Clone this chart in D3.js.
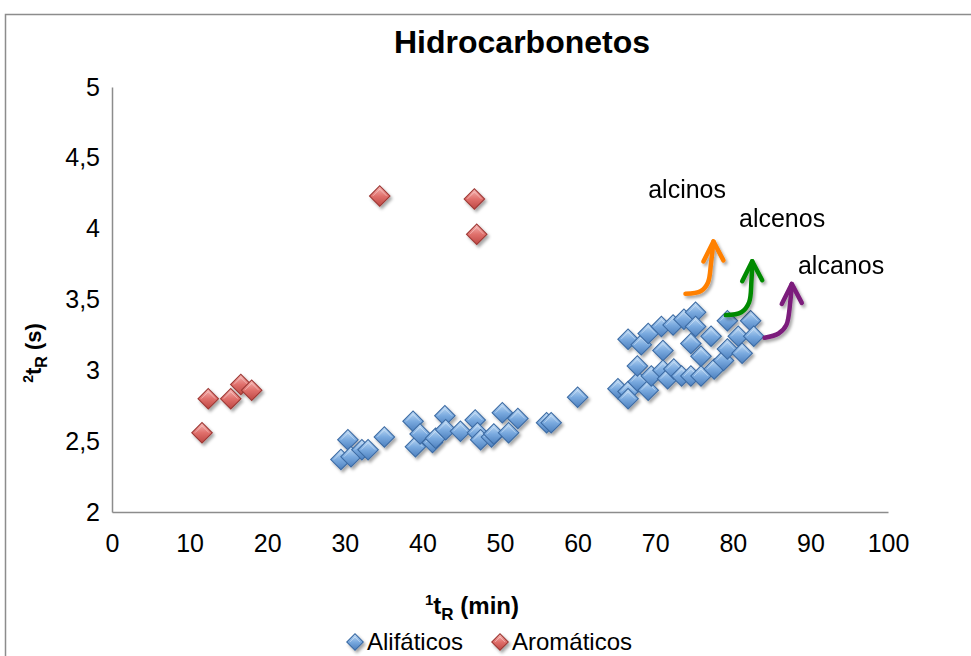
<!DOCTYPE html>
<html>
<head>
<meta charset="utf-8">
<script src="https://cdn.jsdelivr.net/npm/d3@7"></script>
<style>
body { margin: 0; padding: 0; background: #fff; }
svg { display: block; font-family: "Liberation Sans", Arial, sans-serif; }
</style>
</head>
<body>
<div id="main"></div>
<script>
// tick values
const xTicks = [0, 10, 20, 30, 40, 50, 60, 70, 80, 90, 100];
const yTicks = [2, 2.5, 3, 3.5, 4, 4.5, 5];

// series: [1tR (min), 2tR (s)]
const alifaticos = [
    [29.5, 2.37], [30.4, 2.51], [30.8, 2.39], [32.2, 2.44], [33.0, 2.44], [35.1, 2.53],
    [38.8, 2.64], [39.1, 2.46], [39.7, 2.55], [41.3, 2.49], [41.7, 2.52], [42.9, 2.68],
    [43.0, 2.58], [44.9, 2.57], [46.8, 2.65], [47.1, 2.56], [47.5, 2.51], [48.9, 2.53],
    [49.2, 2.55], [50.3, 2.70], [51.1, 2.56], [52.3, 2.66], [56.0, 2.63], [56.6, 2.63],
    [60.0, 2.81],
    [65.2, 2.87], [66.5, 2.85], [66.5, 2.80], [66.5, 3.22], [67.8, 2.92], [67.7, 3.03],
    [68.2, 3.18], [69.1, 2.86], [69.1, 3.26], [69.5, 2.96], [70.8, 3.31], [71.0, 3.14],
    [71.0, 3.00], [71.6, 2.94], [72.3, 3.32], [72.4, 3.01], [73.4, 2.96], [73.7, 3.36],
    [74.6, 3.19], [74.6, 2.96], [75.2, 3.41], [75.2, 3.31], [75.9, 2.96], [75.9, 3.10],
    [77.2, 3.24], [77.6, 3.01], [78.8, 3.07], [79.3, 3.15], [79.3, 3.35], [80.7, 3.24],
    [81.2, 3.12], [82.3, 3.35], [82.7, 3.24]
];
const aromaticos = [
    [11.6, 2.56], [12.4, 2.80], [15.3, 2.80], [16.6, 2.90], [18.0, 2.86],
    [34.5, 4.23], [46.7, 4.21], [47.0, 3.96]
];
const seriesNames = ['Alifáticos', 'Aromáticos'];

// annotations (data units)
const arrowNames = ['alcinos', 'alcenos', 'alcanos'];
const arrowColours = ['#ff8000', '#008a00', '#7b1e7b'];
const arrowPaths = [
    [[73.9, 3.54], [75.9, 3.56], [76.8, 3.62], [77.2, 3.76], [77.5, 3.91]],
    [[79.1, 3.39], [81.1, 3.41], [82.1, 3.48], [82.4, 3.63], [82.5, 3.77]],
    [[84.1, 3.23], [85.9, 3.26], [86.9, 3.32], [87.4, 3.48], [87.6, 3.61]]
];
const arrowLabelPos = [[69.1, 4.22], [80.8, 4.01], [88.4, 3.68]];

const WIDTH = 971, HEIGHT = 656;
const PLOT = {left: 112, right: 888, top: 87, bottom: 512};

const svg = d3.select('#main').append('svg').attr('width', WIDTH).attr('height', HEIGHT);
const defs = svg.append('defs');

const shadow = defs.append('filter').attr('id', 'shadow').attr('x', '-50%').attr('y', '-50%').attr('width', '200%').attr('height', '200%');
shadow.append('feDropShadow').attr('dx', 2).attr('dy', 2.5).attr('stdDeviation', 1.4).attr('flood-color', '#000').attr('flood-opacity', 0.35);

const gradDefs = [
    {id: 'gBlue', top: '#c0dbf5', mid: '#7aaadf', bot: '#4f82c0', edge: '#3b6aa3'},
    {id: 'gRed', top: '#f6b4b1', mid: '#e0706c', bot: '#c04a46', edge: '#9c3633'}
];
gradDefs.forEach((g) => {
    const lg = defs.append('linearGradient').attr('id', g.id).attr('x1', 0).attr('y1', 0).attr('x2', 0).attr('y2', 1);
    lg.append('stop').attr('offset', '0%').attr('stop-color', g.top);
    lg.append('stop').attr('offset', '50%').attr('stop-color', g.mid);
    lg.append('stop').attr('offset', '100%').attr('stop-color', g.bot);
});

// outer chart border
svg.append('rect').attr('x', 5.5).attr('y', 14.5).attr('width', 980).attr('height', 700)
    .attr('fill', '#fff').attr('stroke', '#8c8c8c').attr('stroke-width', 1.5);

const scaleX = d3.scaleLinear().domain([0, 100]).range([PLOT.left, PLOT.right]);
const scaleY = d3.scaleLinear().domain([2, 5]).range([PLOT.bottom, PLOT.top]);
const fmt = (d) => String(d).replace('.', ',');

const axisX = d3.axisBottom(scaleX).tickValues(xTicks).tickFormat(fmt).tickSize(0).tickPadding(22);
const axisY = d3.axisLeft(scaleY).tickValues(yTicks).tickFormat(fmt).tickSize(0).tickPadding(12);

const gx = svg.append('g').attr('transform', `translate(0, ${PLOT.bottom})`).call(axisX);
const gy = svg.append('g').attr('transform', `translate(${PLOT.left}, 0)`).call(axisY);
[gx, gy].forEach((g) => {
    g.select('.domain').attr('stroke', '#8c8c8c').attr('stroke-width', 1.5);
    g.selectAll('text').attr('font-size', 25).attr('fill', '#000').attr('font-family', '"Liberation Sans", Arial, sans-serif');
});

// title
svg.append('text').attr('x', 522).attr('y', 53).attr('text-anchor', 'middle')
    .attr('font-size', 32).attr('font-weight', 'bold').text('Hidrocarbonetos');

// axis titles
const xTitle = svg.append('text').attr('x', 472).attr('y', 614).attr('text-anchor', 'middle')
    .attr('font-size', 24).attr('font-weight', 'bold');
xTitle.append('tspan').attr('font-size', 15).attr('dy', -9).text('1');
xTitle.append('tspan').attr('dy', 9).text('t');
xTitle.append('tspan').attr('font-size', 17).attr('dy', 6).text('R');
xTitle.append('tspan').attr('dy', -6).text(' (min)');

const yTitle = svg.append('text').attr('transform', 'translate(41, 353) rotate(-90)').attr('text-anchor', 'middle')
    .attr('font-size', 22).attr('font-weight', 'bold');
yTitle.append('tspan').attr('font-size', 14).attr('dy', -8).text('2');
yTitle.append('tspan').attr('dy', 8).text('t');
yTitle.append('tspan').attr('font-size', 16).attr('dy', 6).text('R');
yTitle.append('tspan').attr('dy', -6).text(' (s)');

// markers
const diamond = (r) => `M0,${-r}L${r},0L0,${r}L${-r},0Z`;
const drawMarker = (sel, r, g) => {
    sel.append('path').attr('d', diamond(r)).attr('fill', g.edge);
    sel.append('path').attr('d', diamond(r - 1.5)).attr('fill', `url(#${g.id})`);
    sel.append('path').attr('d', `M${-(r - 4)},0L0,${-(r - 4)}L${r - 4},0`).attr('fill', 'none')
        .attr('stroke', '#ffffff').attr('stroke-opacity', 0.35).attr('stroke-width', 1);
};

const plotSeries = (data, g) => {
    const pts = svg.append('g').attr('filter', 'url(#shadow)').selectAll('g').data(data).enter().append('g')
        .attr('transform', (d) => `translate(${scaleX(d[0])}, ${scaleY(d[1])})`);
    pts.each(function () { drawMarker(d3.select(this), 11, g); });
};
plotSeries(alifaticos, gradDefs[0]);
plotSeries(aromaticos, gradDefs[1]);

// annotation arrows
const line = d3.line().x((d) => scaleX(d[0])).y((d) => scaleY(d[1])).curve(d3.curveCatmullRom.alpha(0.5));
const arrows = svg.append('g').attr('filter', 'url(#shadow)');
arrowPaths.forEach((p, i) => {
    arrows.append('path').attr('d', line(p)).attr('fill', 'none').attr('stroke', arrowColours[i])
        .attr('stroke-width', 4.5).attr('stroke-linecap', 'round').attr('stroke-linejoin', 'round');
    const tx = scaleX(p[p.length - 1][0]), ty = scaleY(p[p.length - 1][1]);
    arrows.append('path').attr('d', `M${tx - 10},${ty + 20}L${tx},${ty}L${tx + 10},${ty + 19}`)
        .attr('fill', 'none').attr('stroke', arrowColours[i])
        .attr('stroke-width', 4.5).attr('stroke-linecap', 'round').attr('stroke-linejoin', 'round');
    svg.append('text').attr('x', scaleX(arrowLabelPos[i][0])).attr('y', scaleY(arrowLabelPos[i][1]))
        .attr('font-size', 25).text(arrowNames[i]);
});

// legend
const legend = svg.append('g').attr('transform', 'translate(0, 642)');
const legendX = [355, 500];
seriesNames.forEach((name, i) => {
    const item = legend.append('g').attr('transform', `translate(${legendX[i]}, 0)`);
    const m = item.append('g').attr('filter', 'url(#shadow)');
    drawMarker(m, 9, gradDefs[i]);
    item.append('text').attr('x', 12).attr('y', 8).attr('font-size', 24).text(name);
});
</script>
</body>
</html>
